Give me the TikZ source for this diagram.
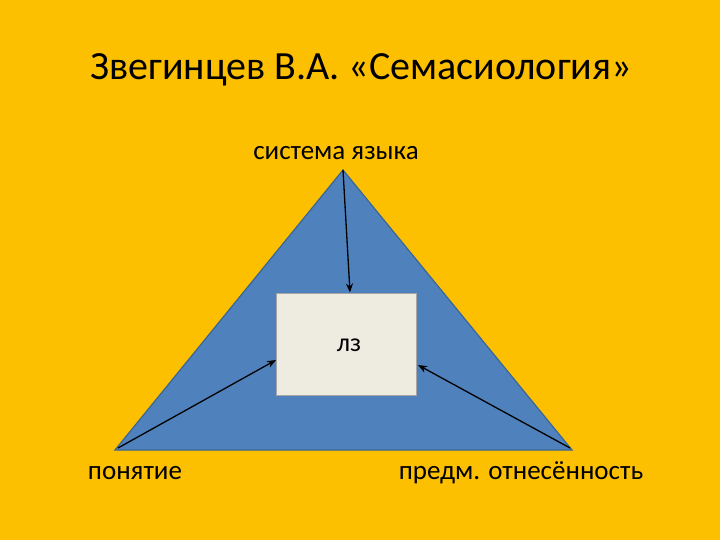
\documentclass[tikz,border=0pt]{standalone}
\usepackage{fontspec}
\setmainfont{Carlito}
\usetikzlibrary{arrows.meta}
\definecolor{bg}{HTML}{FDC000}
\definecolor{tri}{HTML}{4F81BD}
\definecolor{triline}{HTML}{3A6597}
\definecolor{boxfill}{HTML}{EEECE1}
\tikzset{lbl/.style={font=\fontsize{27}{30}\selectfont, text=black, inner sep=0pt},
 arr/.style={-{Stealth[length=9pt,width=7pt]}, line width=1.3pt, black}}
\begin{document}
\begin{tikzpicture}[x=1pt,y=-1pt]
\fill[bg] (0,0) rectangle (720,540);
\useasboundingbox (0,0) rectangle (720,540);
\node[font=\fontsize{40}{44}\selectfont, inner sep=0pt] (title) at (361,70) {Звегинцев В.А. «Семасиология»};
\coordinate (top) at (343,170);
\coordinate (bl) at (115,450);
\coordinate (br) at (572,450);
\draw[fill=tri, draw=triline, line width=1.2pt] (top) -- (br) -- (bl) -- cycle;
\node[draw=gray!70!white, fill=boxfill, line width=1pt, minimum width=140pt, minimum height=102pt, inner sep=0pt] (box) at (346,344) {};
\node[font=\fontsize{26}{28}\selectfont, inner sep=0pt] (lz) at (349,345) {лз};
\node[lbl] (sys) at (336,153) {система языка};
\node[lbl] (pon) at (135,473) {понятие};
\node[lbl] (pred) at (521,473) {предм. отнесённость};
\coordinate (a1) at (343,170);
\coordinate (a2) at (118,448);
\coordinate (a3) at (570,448);
\draw[arr] (a1) -- (box.north -| 350,0);
\draw[arr] (a2) -- (276,360);
\draw[arr] (a3) -- (418,365);
\end{tikzpicture}
\end{document}
